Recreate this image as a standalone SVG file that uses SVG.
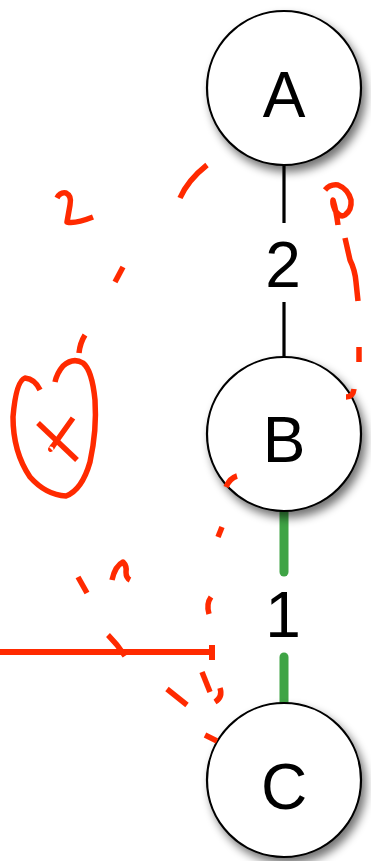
<svg xmlns="http://www.w3.org/2000/svg" width="371" height="861" viewBox="0 0 371 861">
<defs>
<filter id="sh" x="-30%" y="-30%" width="170%" height="170%">
<feGaussianBlur in="SourceAlpha" stdDeviation="5"/>
<feOffset dx="4" dy="6" result="b"/>
<feComponentTransfer><feFuncA type="linear" slope="0.55"/></feComponentTransfer>
<feMerge><feMergeNode/><feMergeNode in="SourceGraphic"/></feMerge>
</filter>
</defs>
<style>
.node{fill:#fff;stroke:#000;stroke-width:2.2}
.lbl{font-family:"Liberation Sans",Arial,sans-serif;font-size:64px;text-anchor:middle;fill:#000}
.e{stroke:#000;stroke-width:3.2;fill:none}
.g{stroke:#3fa445;stroke-width:9;stroke-linecap:round;fill:none}
.r{stroke:#ff2a00;stroke-width:5.5;fill:none;stroke-linecap:butt;stroke-linejoin:round}
</style>
<rect width="371" height="861" fill="#fff"/>
<g id="connectors">
<line class="e" x1="284" y1="164" x2="284" y2="223"/>
<line class="e" x1="284" y1="302" x2="284" y2="358"/>
<text class="lbl" x="283" y="287">2</text>
<line class="g" x1="284" y1="512" x2="284" y2="572"/>
<line class="g" x1="284" y1="657" x2="284" y2="702"/>
<text class="lbl" x="283" y="637">1</text>
</g>
<g id="node-A">
<circle class="node" cx="284" cy="88" r="77" filter="url(#sh)"/>
<text class="lbl" x="284" y="117">A</text>
</g>
<g id="node-B">
<circle class="node" cx="284" cy="434" r="77" filter="url(#sh)"/>
<text class="lbl" x="284" y="462">B</text>
</g>
<g id="node-C">
<circle class="node" cx="284" cy="780" r="77" filter="url(#sh)"/>
<text class="lbl" x="284" y="809">C</text>
</g>
<g id="annotations">
<path class="r" d="M180 198 Q188 180 207 165"/>
<path class="r" d="M57 198 Q60 192 66 193 Q72 196 70 205 L67 222 Q75 224 93 217"/>
<path class="r" d="M123 267 L115 282"/>
<path class="r" d="M85 335 Q80 343 79 353"/>
<path class="r" d="M40 390 Q35 379 25 378 Q16 381 13 417 Q13 452 30 477 Q46 495 66 496 Q82 490 90 462 Q97 430 95 400 Q92 370 83 363 Q73 357 63 366 Q57 373 55 382"/>
<path class="r" d="M38 423 L77 460"/>
<path class="r" d="M73 418 L53 446 Q50 450 51 449"/>
<path class="r" d="M325 190 Q330 184 338 185 Q348 189 351 200 Q352 210 345 215 Q340 218 335 210 Q332 203 333 200 Q336 210 338 225"/>
<path class="r" d="M345 238 L350 260 Q355 270 356 282 L358 301"/>
<path class="r" d="M359 347 L359 362"/>
<path class="r" d="M354 389 Q353 397 346 397"/>
<path class="r" d="M226 487 Q230 478 237 476"/>
<path class="r" d="M222 527 L218 537"/>
<path class="r" d="M211 597 Q206 604 209 614"/>
<path class="r" d="M112 580 Q115 566 123 562 Q127 566 126 572 Q126 578 130 580"/>
<path class="r" d="M78 577 L87 593"/>
<path class="r" d="M0 652 L213 652 M212 645 L212 660" style="stroke-width:6"/>
<path class="r" d="M108 635 Q118 645 125 656"/>
<path class="r" d="M202 672 L210 692"/>
<path class="r" d="M220 688 Q223 697 215 702"/>
<path class="r" d="M167 689 L187 705"/>
<path class="r" d="M205 735 L217 741"/>
</g>
</svg>
